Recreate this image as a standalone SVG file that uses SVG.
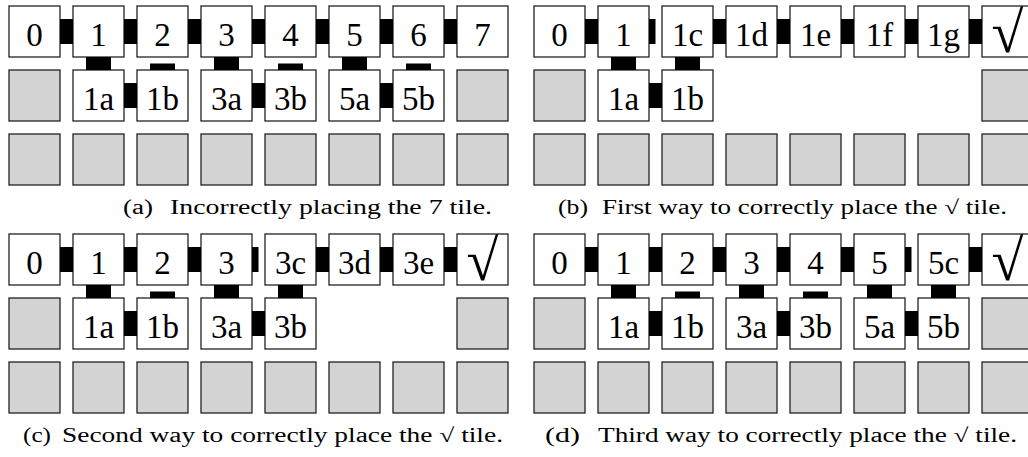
<svg xmlns="http://www.w3.org/2000/svg" width="1028" height="457" viewBox="0 0 1028 457">
<style>
.t{fill:#fff;stroke:#222;stroke-width:1.3}
.g{fill:#d3d3d3;stroke:#222;stroke-width:1.3}
.l{font-family:"Liberation Serif","DejaVu Serif",serif;font-size:33px;text-anchor:middle;fill:#000}
.ck{font-family:"Liberation Serif","DejaVu Serif",serif;font-size:58px;text-anchor:middle;fill:#000}
.c{fill:#000}
.cap{font-family:"Liberation Serif","DejaVu Serif",serif;font-size:20px;fill:#000}
</style>
<rect width="1028" height="457" fill="#fff"/>

<!-- Panel (a) -->
<g id="panel-a">
<g id="a-0"><rect class="t" x="9" y="6" width="51" height="51"/><text class="l" x="34.5" y="45.5">0</text></g>
<g id="a-1"><rect class="t" x="73" y="6" width="51" height="51"/><text class="l" x="98.5" y="45.5">1</text></g>
<g id="a-2"><rect class="t" x="137" y="6" width="51" height="51"/><text class="l" x="162.5" y="45.5">2</text></g>
<g id="a-3"><rect class="t" x="201" y="6" width="51" height="51"/><text class="l" x="226.5" y="45.5">3</text></g>
<g id="a-4"><rect class="t" x="265" y="6" width="51" height="51"/><text class="l" x="290.5" y="45.5">4</text></g>
<g id="a-5"><rect class="t" x="329" y="6" width="51" height="51"/><text class="l" x="354.5" y="45.5">5</text></g>
<g id="a-6"><rect class="t" x="393" y="6" width="51" height="51"/><text class="l" x="418.5" y="45.5">6</text></g>
<g id="a-7"><rect class="t" x="457" y="6" width="51" height="51"/><text class="l" x="482.5" y="45.5">7</text></g>
<g id="a-r2c0"><rect class="g" x="9" y="70" width="51" height="51"/></g>
<g id="a-1a"><rect class="t" x="73" y="70" width="51" height="51"/><text class="l" x="98.5" y="109.5">1a</text></g>
<g id="a-1b"><rect class="t" x="137" y="70" width="51" height="51"/><text class="l" x="162.5" y="109.5">1b</text></g>
<g id="a-3a"><rect class="t" x="201" y="70" width="51" height="51"/><text class="l" x="226.5" y="109.5">3a</text></g>
<g id="a-3b"><rect class="t" x="265" y="70" width="51" height="51"/><text class="l" x="290.5" y="109.5">3b</text></g>
<g id="a-5a"><rect class="t" x="329" y="70" width="51" height="51"/><text class="l" x="354.5" y="109.5">5a</text></g>
<g id="a-5b"><rect class="t" x="393" y="70" width="51" height="51"/><text class="l" x="418.5" y="109.5">5b</text></g>
<g id="a-r2c7"><rect class="g" x="457" y="70" width="51" height="51"/></g>
<g id="a-r3">
<rect class="g" x="9" y="134" width="51" height="51"/><rect class="g" x="73" y="134" width="51" height="51"/><rect class="g" x="137" y="134" width="51" height="51"/><rect class="g" x="201" y="134" width="51" height="51"/><rect class="g" x="265" y="134" width="51" height="51"/><rect class="g" x="329" y="134" width="51" height="51"/><rect class="g" x="393" y="134" width="51" height="51"/><rect class="g" x="457" y="134" width="51" height="51"/>
</g>
</g>

<!-- Panel (b) -->
<g id="panel-b">
<g id="b-0"><rect class="t" x="534" y="6" width="51" height="51"/><text class="l" x="559.5" y="45.5">0</text></g>
<g id="b-1"><rect class="t" x="598" y="6" width="51" height="51"/><text class="l" x="623.5" y="45.5">1</text></g>
<g id="b-1c"><rect class="t" x="662" y="6" width="51" height="51"/><text class="l" x="687.5" y="45.5">1c</text></g>
<g id="b-1d"><rect class="t" x="726" y="6" width="51" height="51"/><text class="l" x="751.5" y="45.5">1d</text></g>
<g id="b-1e"><rect class="t" x="790" y="6" width="51" height="51"/><text class="l" x="815.5" y="45.5">1e</text></g>
<g id="b-1f"><rect class="t" x="854" y="6" width="51" height="51"/><text class="l" x="879.5" y="45.5">1f</text></g>
<g id="b-1g"><rect class="t" x="918" y="6" width="51" height="51"/><text class="l" x="943.5" y="45.5">1g</text></g>
<g id="b-ok"><rect class="t" x="982" y="6" width="51" height="51"/><text class="ck" x="1007.5" y="52">√</text></g>
<g id="b-r2c0"><rect class="g" x="534" y="70" width="51" height="51"/></g>
<g id="b-1a"><rect class="t" x="598" y="70" width="51" height="51"/><text class="l" x="623.5" y="109.5">1a</text></g>
<g id="b-1b"><rect class="t" x="662" y="70" width="51" height="51"/><text class="l" x="687.5" y="109.5">1b</text></g>
<g id="b-r2c7"><rect class="g" x="982" y="70" width="51" height="51"/></g>
<g id="b-r3">
<rect class="g" x="534" y="134" width="51" height="51"/><rect class="g" x="598" y="134" width="51" height="51"/><rect class="g" x="662" y="134" width="51" height="51"/><rect class="g" x="726" y="134" width="51" height="51"/><rect class="g" x="790" y="134" width="51" height="51"/><rect class="g" x="854" y="134" width="51" height="51"/><rect class="g" x="918" y="134" width="51" height="51"/><rect class="g" x="982" y="134" width="51" height="51"/>
</g>
</g>

<!-- Panel (c) -->
<g id="panel-c">
<g id="c-0"><rect class="t" x="9" y="234" width="51" height="51"/><text class="l" x="34.5" y="273.5">0</text></g>
<g id="c-1"><rect class="t" x="73" y="234" width="51" height="51"/><text class="l" x="98.5" y="273.5">1</text></g>
<g id="c-2"><rect class="t" x="137" y="234" width="51" height="51"/><text class="l" x="162.5" y="273.5">2</text></g>
<g id="c-3"><rect class="t" x="201" y="234" width="51" height="51"/><text class="l" x="226.5" y="273.5">3</text></g>
<g id="c-3c"><rect class="t" x="265" y="234" width="51" height="51"/><text class="l" x="290.5" y="273.5">3c</text></g>
<g id="c-3d"><rect class="t" x="329" y="234" width="51" height="51"/><text class="l" x="354.5" y="273.5">3d</text></g>
<g id="c-3e"><rect class="t" x="393" y="234" width="51" height="51"/><text class="l" x="418.5" y="273.5">3e</text></g>
<g id="c-ok"><rect class="t" x="457" y="234" width="51" height="51"/><text class="ck" x="482.5" y="280">√</text></g>
<g id="c-r2c0"><rect class="g" x="9" y="298" width="51" height="51"/></g>
<g id="c-1a"><rect class="t" x="73" y="298" width="51" height="51"/><text class="l" x="98.5" y="337.5">1a</text></g>
<g id="c-1b"><rect class="t" x="137" y="298" width="51" height="51"/><text class="l" x="162.5" y="337.5">1b</text></g>
<g id="c-3a"><rect class="t" x="201" y="298" width="51" height="51"/><text class="l" x="226.5" y="337.5">3a</text></g>
<g id="c-3b"><rect class="t" x="265" y="298" width="51" height="51"/><text class="l" x="290.5" y="337.5">3b</text></g>
<g id="c-r2c7"><rect class="g" x="457" y="298" width="51" height="51"/></g>
<g id="c-r3">
<rect class="g" x="9" y="362" width="51" height="51"/><rect class="g" x="73" y="362" width="51" height="51"/><rect class="g" x="137" y="362" width="51" height="51"/><rect class="g" x="201" y="362" width="51" height="51"/><rect class="g" x="265" y="362" width="51" height="51"/><rect class="g" x="329" y="362" width="51" height="51"/><rect class="g" x="393" y="362" width="51" height="51"/><rect class="g" x="457" y="362" width="51" height="51"/>
</g>
</g>

<!-- Panel (d) -->
<g id="panel-d">
<g id="d-0"><rect class="t" x="534" y="234" width="51" height="51"/><text class="l" x="559.5" y="273.5">0</text></g>
<g id="d-1"><rect class="t" x="598" y="234" width="51" height="51"/><text class="l" x="623.5" y="273.5">1</text></g>
<g id="d-2"><rect class="t" x="662" y="234" width="51" height="51"/><text class="l" x="687.5" y="273.5">2</text></g>
<g id="d-3"><rect class="t" x="726" y="234" width="51" height="51"/><text class="l" x="751.5" y="273.5">3</text></g>
<g id="d-4"><rect class="t" x="790" y="234" width="51" height="51"/><text class="l" x="815.5" y="273.5">4</text></g>
<g id="d-5"><rect class="t" x="854" y="234" width="51" height="51"/><text class="l" x="879.5" y="273.5">5</text></g>
<g id="d-5c"><rect class="t" x="918" y="234" width="51" height="51"/><text class="l" x="943.5" y="273.5">5c</text></g>
<g id="d-ok"><rect class="t" x="982" y="234" width="51" height="51"/><text class="ck" x="1007.5" y="280">√</text></g>
<g id="d-r2c0"><rect class="g" x="534" y="298" width="51" height="51"/></g>
<g id="d-1a"><rect class="t" x="598" y="298" width="51" height="51"/><text class="l" x="623.5" y="337.5">1a</text></g>
<g id="d-1b"><rect class="t" x="662" y="298" width="51" height="51"/><text class="l" x="687.5" y="337.5">1b</text></g>
<g id="d-3a"><rect class="t" x="726" y="298" width="51" height="51"/><text class="l" x="751.5" y="337.5">3a</text></g>
<g id="d-3b"><rect class="t" x="790" y="298" width="51" height="51"/><text class="l" x="815.5" y="337.5">3b</text></g>
<g id="d-5a"><rect class="t" x="854" y="298" width="51" height="51"/><text class="l" x="879.5" y="337.5">5a</text></g>
<g id="d-5b"><rect class="t" x="918" y="298" width="51" height="51"/><text class="l" x="943.5" y="337.5">5b</text></g>
<g id="d-r2c7"><rect class="g" x="982" y="298" width="51" height="51"/></g>
<g id="d-r3">
<rect class="g" x="534" y="362" width="51" height="51"/><rect class="g" x="598" y="362" width="51" height="51"/><rect class="g" x="662" y="362" width="51" height="51"/><rect class="g" x="726" y="362" width="51" height="51"/><rect class="g" x="790" y="362" width="51" height="51"/><rect class="g" x="854" y="362" width="51" height="51"/><rect class="g" x="918" y="362" width="51" height="51"/><rect class="g" x="982" y="362" width="51" height="51"/>
</g>
</g>

<!-- Connectors -->
<g id="connectors" class="c">
<!-- (a) -->
<rect x="60" y="19" width="13" height="25"/><rect x="124" y="19" width="13" height="25"/><rect x="188" y="19" width="13" height="25"/><rect x="252" y="19" width="13" height="25"/><rect x="316" y="19" width="13" height="25"/><rect x="380" y="19" width="13" height="25"/><rect x="444" y="19" width="13" height="25"/>
<rect x="86" y="57" width="25" height="13"/><rect x="214" y="57" width="25" height="13"/><rect x="342" y="57" width="25" height="13"/>
<rect x="150" y="63.5" width="25" height="6.5"/><rect x="278" y="63.5" width="25" height="6.5"/><rect x="406" y="63.5" width="25" height="6.5"/>
<rect x="124" y="83" width="13" height="25"/><rect x="252" y="83" width="13" height="25"/><rect x="380" y="83" width="13" height="25"/>
<!-- (b) -->
<rect x="585" y="19" width="13" height="25"/><rect x="649" y="19" width="6.5" height="25"/><rect x="713" y="19" width="13" height="25"/><rect x="777" y="19" width="13" height="25"/><rect x="841" y="19" width="13" height="25"/><rect x="905" y="19" width="13" height="25"/><rect x="969" y="19" width="13" height="25"/>
<rect x="611" y="57" width="25" height="13"/><rect x="675" y="57" width="25" height="13"/>
<rect x="649" y="83" width="13" height="25"/>
<!-- (c) -->
<rect x="60" y="247" width="13" height="25"/><rect x="124" y="247" width="13" height="25"/><rect x="188" y="247" width="13" height="25"/><rect x="252" y="247" width="6.5" height="25"/><rect x="316" y="247" width="13" height="25"/><rect x="380" y="247" width="13" height="25"/><rect x="444" y="247" width="13" height="25"/>
<rect x="86" y="285" width="25" height="13"/><rect x="214" y="285" width="25" height="13"/><rect x="278" y="285" width="25" height="13"/>
<rect x="150" y="291.5" width="25" height="6.5"/>
<rect x="124" y="311" width="13" height="25"/><rect x="252" y="311" width="13" height="25"/>
<!-- (d) -->
<rect x="585" y="247" width="13" height="25"/><rect x="649" y="247" width="13" height="25"/><rect x="713" y="247" width="13" height="25"/><rect x="777" y="247" width="13" height="25"/><rect x="841" y="247" width="13" height="25"/><rect x="905" y="247" width="6.5" height="25"/><rect x="969" y="247" width="13" height="25"/>
<rect x="611" y="285" width="25" height="13"/><rect x="739" y="285" width="25" height="13"/><rect x="867" y="285" width="25" height="13"/><rect x="931" y="285" width="25" height="13"/>
<rect x="675" y="291.5" width="25" height="6.5"/><rect x="803" y="291.5" width="25" height="6.5"/>
<rect x="649" y="311" width="13" height="25"/><rect x="777" y="311" width="13" height="25"/><rect x="905" y="311" width="13" height="25"/>
</g>

<!-- Captions -->
<g id="captions">
<text class="cap" x="123" y="214" textLength="30" lengthAdjust="spacingAndGlyphs">(a)</text>
<text class="cap" x="170" y="214" textLength="322" lengthAdjust="spacingAndGlyphs">Incorrectly placing the 7 tile.</text>
<text class="cap" x="558" y="214" textLength="30" lengthAdjust="spacingAndGlyphs">(b)</text>
<text class="cap" x="602" y="214" textLength="405" lengthAdjust="spacingAndGlyphs">First way to correctly place the √ tile.</text>
<text class="cap" x="23" y="442" textLength="28" lengthAdjust="spacingAndGlyphs">(c)</text>
<text class="cap" x="62" y="442" textLength="441" lengthAdjust="spacingAndGlyphs">Second way to correctly place the √ tile.</text>
<text class="cap" x="545" y="442" textLength="35" lengthAdjust="spacingAndGlyphs">(d)</text>
<text class="cap" x="598" y="442" textLength="419" lengthAdjust="spacingAndGlyphs">Third way to correctly place the √ tile.</text>
</g>
</svg>
